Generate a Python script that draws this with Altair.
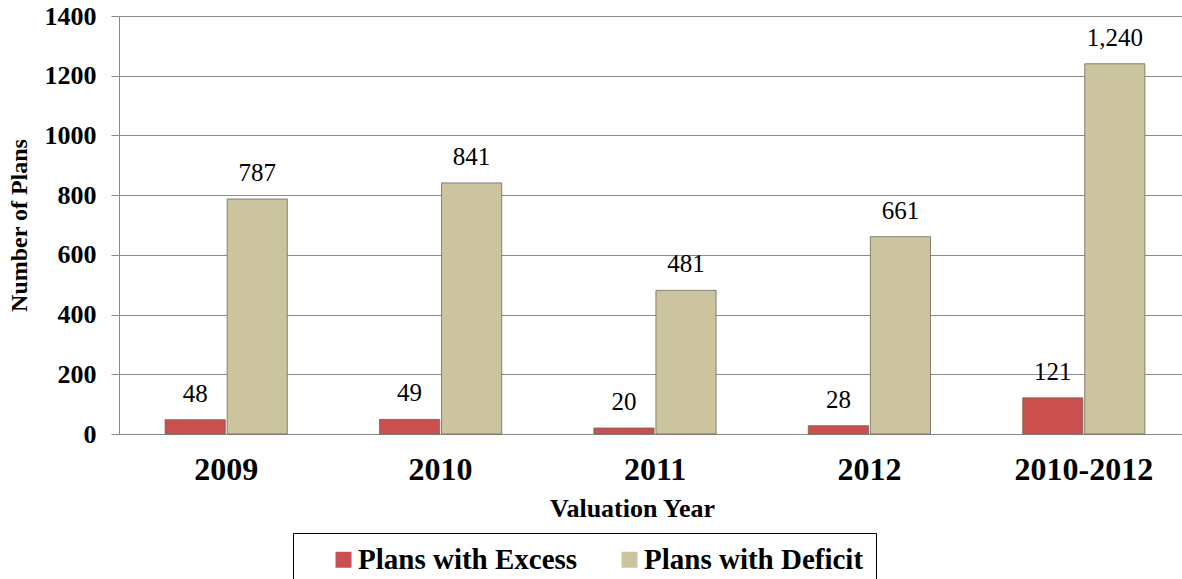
import altair as alt
import pandas as pd

years = ["2009", "2010", "2011", "2012", "2010-2012"]
excess = [48, 49, 20, 28, 121]
deficit = [787, 841, 481, 661, 1240]
series = ["Plans with Excess", "Plans with Deficit"]
colors = ["#c9504e", "#cbc49f"]

rows = []
for y, e, d in zip(years, excess, deficit):
    rows.append({"year": y, "series": series[0], "value": e})
    rows.append({"year": y, "series": series[1], "value": d})
df = pd.DataFrame(rows)

FONT = "Liberation Serif"

x = alt.X("year:N", sort=years,
          scale=alt.Scale(paddingInner=0.43, paddingOuter=0.215, range=[0, 1072]),
          axis=alt.Axis(title="Valuation Year", labelAngle=0, labelFontSize=32,
                        labelFont=FONT, titleFont=FONT,
                        labelFontWeight="bold", labelPadding=20, ticks=False,
                        titleFontSize=26, titleFontWeight="bold",
                        titleX=513, titleY=74, titleBaseline="middle", titleAlign="center",
                        domainColor="#888888", labelColor="black", titleColor="black"))
xo = alt.XOffset("series:N", sort=series, scale=alt.Scale(paddingInner=0.03))
y = alt.Y("value:Q", scale=alt.Scale(domain=[0, 1400], nice=False),
          axis=alt.Axis(title="Number of Plans", values=list(range(0, 1401, 200)),
                        format="d", labelFont=FONT, titleFont=FONT,
                        labelFontSize=26, labelFontWeight="bold", tickSize=8,
                        tickColor="#888888", labelPadding=15, gridColor="#8c8c8c",
                        domainColor="#888888", titleFontSize=24, titleFontWeight="bold",
                        titlePadding=13, labelColor="black", titleColor="black"))
color = alt.Color("series:N", sort=series,
                  scale=alt.Scale(domain=series, range=colors),
                  legend=alt.Legend(title=None, orient="none", direction="horizontal",
                                    legendX=174, legendY=517, strokeColor="black",
                                    padding=12, symbolType="square", symbolSize=256,
                                    symbolStrokeWidth=0, symbolOffset=24,
                                    labelFont=FONT, labelFontSize=29, labelFontWeight="bold",
                                    labelColor="black", columnPadding=13, labelOffset=0,
                                    labelLimit=400, symbolOpacity=1))

bars = alt.Chart(df).mark_bar(stroke="#6f6a55", strokeWidth=0.8).encode(
    x=x, xOffset=xo, y=y, color=color)

labels = alt.Chart(df).mark_text(fontSize=25, baseline="alphabetic", dy=-18,
                                 color="black", font=FONT).encode(
    x=alt.X("year:N", sort=years), xOffset=xo, y="value:Q",
    text=alt.Text("value:Q", format=",d"))

chart = alt.layer(bars, labels).properties(
    width=1063, height=418,
    autosize=alt.AutoSizeParams(type="none"),
    padding={"left": 119, "top": 16, "right": 0, "bottom": 145},
).configure(font=FONT).configure_view(stroke=None)

chart.save("out.html", embed_options={"renderer": "svg", "actions": False})
